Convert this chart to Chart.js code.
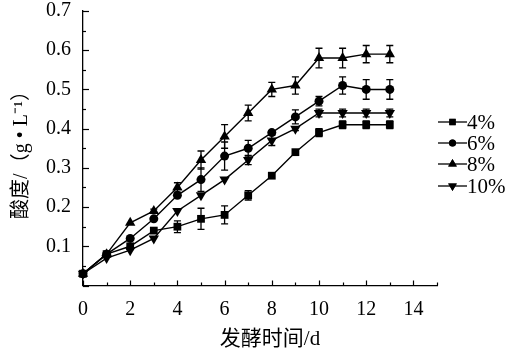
<!DOCTYPE html>
<html><head><meta charset="utf-8">
<script src="https://cdn.jsdelivr.net/npm/chart.js@4"></script>
<style>html,body{margin:0;padding:0;background:#fff}canvas{display:block}</style>
</head><body>
<canvas id="c" width="512" height="357"></canvas>
<script>
const days = [0,1,2,3,4,5,6,7,8,9,10,11,12,13];
const seriesNames = ['4%','6%','8%','10%'];
const s4  = [0.03,0.08,0.10,0.14,0.15,0.17,0.18,0.23,0.28,0.34,0.39,0.41,0.41,0.41];
const s6  = [0.03,0.08,0.12,0.17,0.23,0.27,0.33,0.35,0.39,0.43,0.47,0.51,0.50,0.50];
const s8  = [0.03,0.08,0.16,0.19,0.25,0.32,0.38,0.44,0.50,0.51,0.58,0.58,0.59,0.59];
const s10 = [0.03,0.07,0.09,0.12,0.19,0.23,0.27,0.32,0.37,0.40,0.44,0.44,0.44,0.44];
const e4  = [0,0,0,0,0.015,0.027,0.023,0.012,0,0,0.01,0.01,0.01,0.01];
const e6  = [0,0,0,0,0.005,0.03,0.036,0.02,0.005,0.018,0.012,0.022,0.025,0.025];
const e8  = [0,0,0,0.005,0.012,0.023,0.03,0.02,0.018,0.022,0.025,0.025,0.022,0.022];
const e10 = [0,0,0,0,0,0,0,0.012,0.013,0.005,0.01,0.01,0.01,0.01];
const xTitle = '发酵时间/d';
const yTitle = '酸度/（g • L⁻¹）';

const SERIF = "'Liberation Serif', 'Noto Sans CJK SC', serif";
const styles = [
  {pointStyle:'rect', radius:5.5, rotation:0},
  {pointStyle:'circle', radius:4.5, rotation:0},
  {pointStyle:'triangle', radius:6, rotation:0},
  {pointStyle:'triangle', radius:6, rotation:180}
];
const vals = [s4,s6,s8,s10];
const errs = [e4,e6,e8,e10];

function build(){
const datasets = vals.map((v,i)=>({
  label: seriesNames[i],
  data: days.map((d,j)=>({x:d,y:v[j]})),
  errors: errs[i],
  borderColor:'#000', backgroundColor:'#000', borderWidth:1.4,
  pointStyle: styles[i].pointStyle, pointRadius: styles[i].radius,
  pointRotation: styles[i].rotation, pointBorderWidth:0,
  pointBackgroundColor:'#000', pointHoverRadius: styles[i].radius,
  tension:0, clip:false
}));

const custom = {
  id:'custom',
  afterDatasetsDraw(chart){
    const ctx = chart.ctx, xs = chart.scales.x, ys = chart.scales.y;
    ctx.save();
    ctx.strokeStyle='#000'; ctx.lineWidth=1.3;
    chart.data.datasets.forEach(ds=>{
      ds.data.forEach((p,j)=>{
        const e = ds.errors[j]; if(!e) return;
        const px = xs.getPixelForValue(p.x);
        const y1 = ys.getPixelForValue(p.y+e), y2 = ys.getPixelForValue(p.y-e);
        ctx.beginPath();
        ctx.moveTo(px,y1); ctx.lineTo(px,y2);
        ctx.moveTo(px-3.5,y1); ctx.lineTo(px+3.5,y1);
        ctx.moveTo(px-3.5,y2); ctx.lineTo(px+3.5,y2);
        ctx.stroke();
      });
    });
    ctx.lineWidth=1.2;
    const L = chart.chartArea.left, B = chart.chartArea.bottom;
    ys.ticks.forEach(t=>{
      const y = Math.round(ys.getPixelForValue(t.value))+0.5;
      const major = Math.abs(t.value*10-Math.round(t.value*10))<1e-6;
      ctx.beginPath(); ctx.moveTo(L,y); ctx.lineTo(L+(major?6:3),y); ctx.stroke();
    });
    xs.ticks.forEach(t=>{
      const x = Math.round(xs.getPixelForValue(t.value))+0.5;
      const major = t.value%2===0;
      ctx.beginPath(); ctx.moveTo(x,B); ctx.lineTo(x,B-(major?5:3)); ctx.stroke();
    });
    ctx.fillStyle='#000';
    ctx.textAlign='center'; ctx.textBaseline='middle';
    ctx.font = '21px '+SERIF;
    ctx.fillText(xTitle, 270, 339);
    ctx.save();
    ctx.translate(22,150); ctx.rotate(-Math.PI/2);
    ctx.font = '20px '+SERIF;
    ctx.fillText(yTitle, 0, 0);
    ctx.restore();
    const rows=[122,143,164,186];
    chart.data.datasets.forEach((ds,i)=>{
      const y = rows[i];
      ctx.beginPath(); ctx.lineWidth=1.3; ctx.moveTo(438,y); ctx.lineTo(467,y); ctx.stroke();
      Chart.helpers.drawPoint(ctx,{pointStyle:ds.pointStyle, radius:ds.pointRadius-1, rotation:ds.pointRotation, borderWidth:0}, 452.5, y);
      ctx.fill();
      ctx.font='21px '+SERIF; ctx.textAlign='left'; ctx.textBaseline='middle';
      ctx.fillText(ds.label, 467, y+1);
    });
    ctx.restore();
  }
};

new Chart(document.getElementById('c'), {
  type:'line',
  data:{datasets},
  options:{
    responsive:false, animation:false, devicePixelRatio:1,
    layout:{padding:{top:11,right:75,bottom:0,left:0}},
    plugins:{legend:{display:false}, tooltip:{enabled:false}},
    scales:{
      x:{type:'linear', min:0, max:15,
        afterFit(s){ s.height = 71.5; s.paddingLeft=0; s.paddingRight=0; },
        grid:{display:false, drawTicks:false},
        border:{display:true,color:'#000',width:1.3},
        ticks:{stepSize:1, autoSkip:false, maxRotation:0, padding:12, color:'#000',
          font:{family:SERIF,size:20},
          callback:v=> (v%2===0 && v<=14) ? String(v) : ''}
      },
      y:{min:0, max:0.7,
        afterFit(s){ s.width = 83; s.paddingTop=0; s.paddingBottom=0; },
        grid:{display:false, drawTicks:false},
        border:{display:true,color:'#000',width:1.3},
        ticks:{stepSize:0.05, autoSkip:false, padding:12, color:'#000',
          font:{family:SERIF,size:20},
          callback:v=>{ const r=Math.round(v*10); return (Math.abs(v*10-r)<1e-6 && r>0)? (r/10).toFixed(1):''; }}
      }
    }
  },
  plugins:[custom]
});
}
Promise.all([
  document.fonts.load("18px 'Liberation Serif'"),
  document.fonts.load("18px 'Noto Sans CJK SC'", '发酵时间酸度')
]).then(build, build);
</script>
</body></html>
